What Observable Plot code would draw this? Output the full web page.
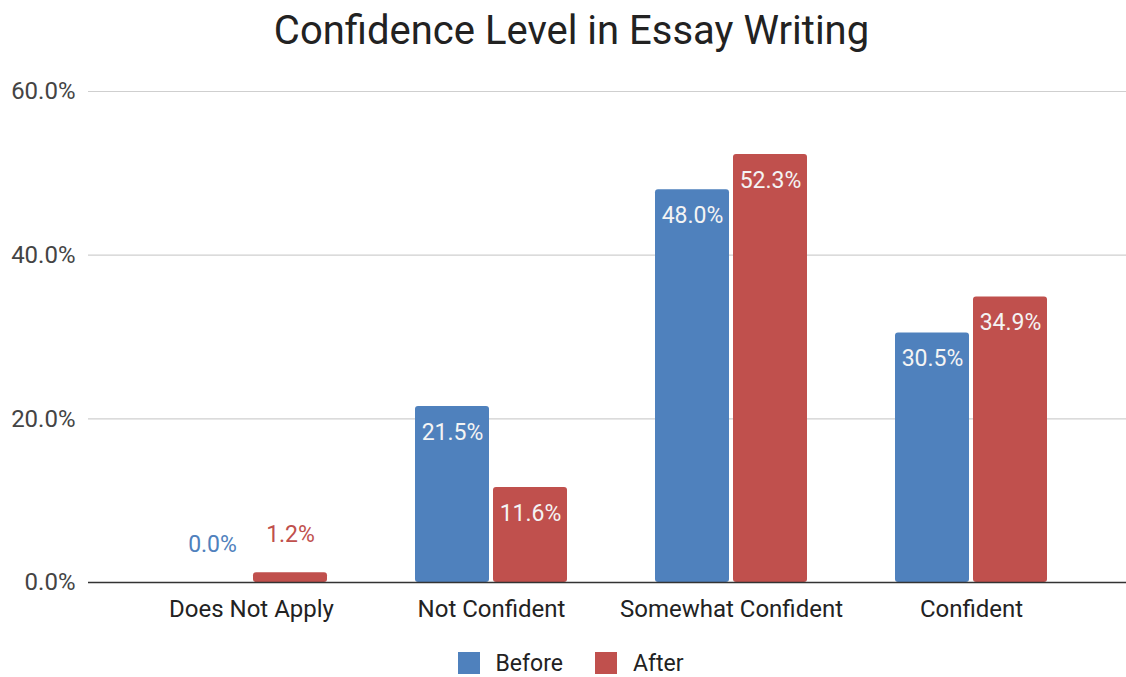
<!DOCTYPE html>
<html><head><meta charset="utf-8">
<script src="https://cdn.jsdelivr.net/npm/d3@7"></script>
<script src="https://cdn.jsdelivr.net/npm/@observablehq/plot@0.6"></script>
<style>
body{margin:0;background:#fff;font-family:Roboto,sans-serif;width:1126px;height:677px;overflow:hidden;}
#title{height:60px;line-height:62px;font-size:40px;color:#222;text-align:center;padding-left:17px;box-sizing:border-box;white-space:nowrap;}
#chart svg{display:block;}
#legend{display:flex;justify-content:center;align-items:center;height:50px;padding-left:15px;box-sizing:border-box;font-size:23px;color:#222;margin-top:11px;}
.sw{width:22px;height:22px;display:inline-block;margin-right:16px;}
.item{display:flex;align-items:center;margin:0 16px;}
</style></head><body>
<div id="title">Confidence Level in Essay Writing</div>
<div id="chart"></div>
<div id="legend"></div>
<script>
const categories = ["Does Not Apply", "Not Confident", "Somewhat Confident", "Confident"];
const seriesNames = ["Before", "After"];
const beforeValues = [0.0, 21.5, 48.0, 30.5];
const afterValues = [1.2, 11.6, 52.3, 34.9];
const yTicks = [0, 20, 40, 60];
const colors = ["#4f81bd", "#c0504d"];

const rows = [];
categories.forEach((c, i) => {
  rows.push({cat: c, series: "Before", v: beforeValues[i]});
  rows.push({cat: c, series: "After", v: afterValues[i]});
});
const before = rows.filter(d => d.series === "Before");
const after = rows.filter(d => d.series === "After");
const inside = d => d.v >= 5;
const fmt = d => d.v.toFixed(1) + "%";

const chart = Plot.plot({
  width: 1126,
  height: 567,
  marginTop: 31,
  marginBottom: 45,
  marginLeft: 88,
  marginRight: 0,
  style: {fontFamily: "Roboto, sans-serif", fontSize: "24px", color: "#444", background: "white", overflow: "visible"},
  x: {domain: categories, paddingInner: 0, paddingOuter: 0.158, align: 0.55, label: null, tickSize: 0, tickPadding: 17},
  y: {domain: [0, 60], ticks: yTicks, tickFormat: d => d.toFixed(1) + "%", tickSize: 0, tickPadding: 13, label: null},
  marks: [
    Plot.ruleY(yTicks.filter(t => t > 0), {stroke: "#cfcfcf", strokeWidth: 1.2}),
    Plot.barY(before, {x: "cat", y: "v", fill: colors[0], insetLeft: 44, insetRight: 122, rx: 3}),
    Plot.barY(after, {x: "cat", y: "v", fill: colors[1], insetLeft: 122, insetRight: 44, rx: 3}),
    Plot.ruleY([0], {stroke: "#333", strokeWidth: 1.5}),
    Plot.text(before.filter(inside), {x: "cat", y: "v", text: fmt, dx: -39, dy: 26, fill: "#f4f4f4", fontSize: 23}),
    Plot.text(after.filter(inside), {x: "cat", y: "v", text: fmt, dx: 39, dy: 26, fill: "#f4f4f4", fontSize: 23}),
    Plot.text(before.filter(d => !inside(d)), {x: "cat", y: "v", text: fmt, dx: -39, dy: -38, fill: colors[0], fontSize: 23}),
    Plot.text(after.filter(d => !inside(d)), {x: "cat", y: "v", text: fmt, dx: 39, dy: -38, fill: colors[1], fontSize: 23})
  ]
});
chart.querySelectorAll('g[aria-label="x-axis tick label"] text').forEach(t => t.setAttribute("fill", "#222"));
document.getElementById("chart").appendChild(chart);

const legend = document.getElementById("legend");
seriesNames.forEach((s, i) => {
  const it = document.createElement("div");
  it.className = "item";
  const sw = document.createElement("span");
  sw.className = "sw";
  sw.style.background = colors[i];
  it.appendChild(sw);
  it.appendChild(document.createTextNode(s));
  legend.appendChild(it);
});
</script>
</body></html>
